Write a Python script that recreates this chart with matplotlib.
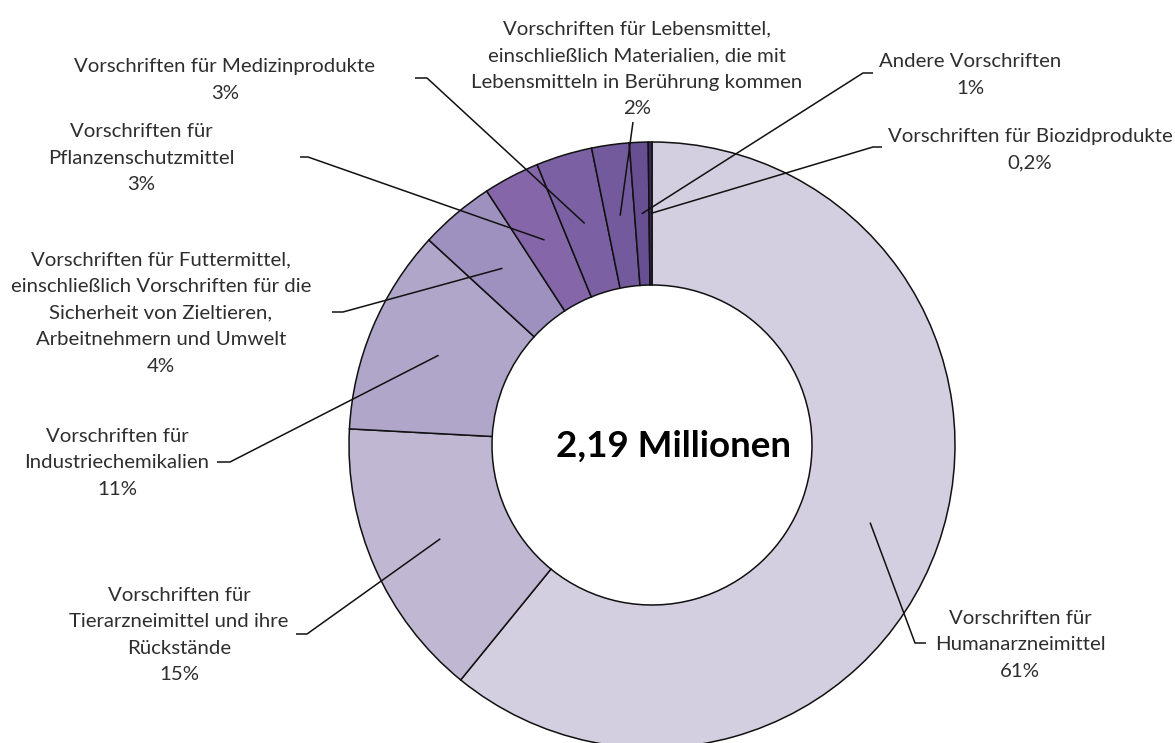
import numpy as np
import matplotlib
matplotlib.use("Agg")
import matplotlib.pyplot as plt

# ---- data ----
categories = [
    "Vorschriften für\nHumanarzneimittel",
    "Vorschriften für\nTierarzneimittel und ihre\nRückstände",
    "Vorschriften für\nIndustriechemikalien",
    "Vorschriften für Futtermittel,\neinschließlich Vorschriften für die\nSicherheit von Zieltieren,\nArbeitnehmern und Umwelt",
    "Vorschriften für\nPflanzenschutzmittel",
    "Vorschriften für Medizinprodukte",
    "Vorschriften für Lebensmittel,\neinschließlich Materialien, die mit\nLebensmitteln in Berührung kommen",
    "Andere Vorschriften",
    "Vorschriften für Biozidprodukte",
]
values = [61, 15, 11, 4, 3, 3, 2, 1, 0.2]
pct_labels = ["61%", "15%", "11%", "4%", "3%", "3%", "2%", "1%", "0,2%"]
center_label = "2,19 Millionen"

colors = ["#D4CFE0", "#C0B7D2", "#B0A6CA", "#9E90BF", "#8466A9",
          "#7B61A3", "#735A9C", "#674F91", "#3D2B5C"]

# ---- layout (pixel coordinates, y from top) ----
W, H = 1175, 743
cx, cy = 652, 445
r_out, r_in = 303, 160
text_pos = [(1020, 645), (179, 635), (117, 463), (161, 313), (141, 158),
            (225, 80), (637, 69), (970, 75), (1030, 150)]
leader_pts = [
    [(926, 643), (915, 643)],
    [(296, 634), (307, 634)],
    [(217, 462), (230, 462)],
    [(332, 312), (343, 312)],
    [(300, 157), (308, 157)],
    [(415, 78), (427, 78)],
    [(633, 122)],
    [(873, 73), (863, 73)],
    [(882, 147), (873, 147)],
]

fig = plt.figure(figsize=(W / 100, H / 100), dpi=100)
ax = fig.add_axes([0, 0, 1, 1])

def Y(py):
    return H - py

wedges, _ = ax.pie(values, colors=colors, startangle=90, counterclock=False,
                   radius=r_out, center=(cx, Y(cy)),
                   wedgeprops=dict(width=r_out - r_in, edgecolor="#111111",
                                   linewidth=1.1))
ax.set_aspect("equal")
ax.set_xlim(0, W)
ax.set_ylim(0, H)
ax.axis("off")

r_mid = (r_out + r_in) / 2
font = "Lato"
for w, lab, pct, (tx, ty), pts in zip(wedges, categories, pct_labels,
                                      text_pos, leader_pts):
    ang = np.deg2rad((w.theta1 + w.theta2) / 2)
    ex = cx + r_mid * np.cos(ang)
    ey = Y(cy) + r_mid * np.sin(ang)
    xs = [p[0] for p in pts] + [ex]
    ys = [Y(p[1]) for p in pts] + [ey]
    ax.plot(xs, ys, color="#111111", lw=1.1, solid_capstyle="butt")
    ax.text(tx, Y(ty), lab + "\n" + pct, ha="center", va="center",
            multialignment="center", fontsize=14.7, family=font,
            color="#2e2e2e", linespacing=1.69)

ax.text(673, Y(446), center_label, ha="center", va="center",
        fontsize=26.5, fontweight="bold", family=font, color="#000000")

fig.savefig("out.png", dpi=100)
